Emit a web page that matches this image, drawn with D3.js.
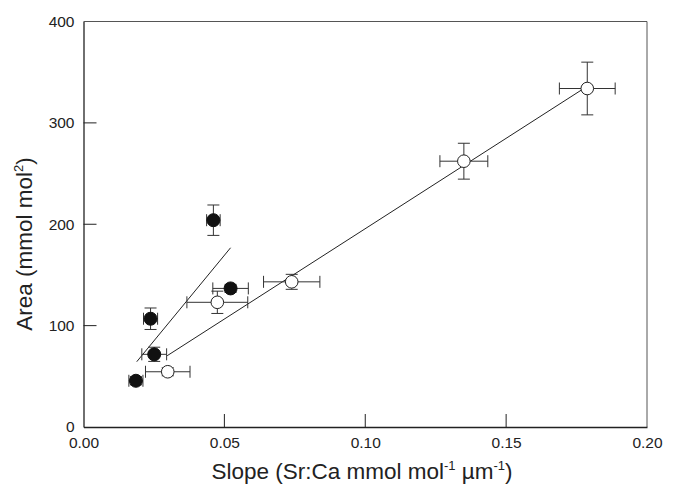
<!DOCTYPE html>
<html>
<head>
<meta charset="utf-8">
<script src="https://cdn.jsdelivr.net/npm/d3@7"></script>
<style>
  body { margin: 0; background: #fff; }
  svg { font-family: 'Liberation Sans', Arial, sans-serif; }
</style>
</head>
<body>
<div id="chart"></div>
<script>
// filled circles
const filledX = [0.0186, 0.0238, 0.0251, 0.0522, 0.0461];
const filledY = [45.6, 106.8, 71.7, 136.7, 204];
const filledXErr = [0.0025, 0.0025, 0.0044, 0.0063, 0.0024];
const filledYErr = [4, 10.6, 7, 4, 15];

// open circles
const openX = [0.0299, 0.0475, 0.0739, 0.135, 0.1788];
const openY = [54.5, 123, 143.2, 262.2, 333.9];
const openXErr = [0.0079, 0.0108, 0.01, 0.0085, 0.0099];
const openYErr = [4, 11, 7.4, 17.7, 26];

// fitted lines, two endpoints each
const filledFit = [[0.0189, 64.4], [0.0522, 176.8]];
const openFit = [[0.0297, 70.3], [0.177, 332.9]];

const xTicks = [0, 0.05, 0.1, 0.15, 0.2];
const yTicks = [0, 100, 200, 300, 400];

const W = 674;
const H = 489;
const margin = { left: 83.5, top: 21.5, right: 27, bottom: 62 };

const svg = d3.select('#chart').append('svg').attr('width', W).attr('height', H);

const x = d3.scaleLinear().domain([0, 0.2]).range([margin.left, W - margin.right]);
const y = d3.scaleLinear().domain([0, 400]).range([H - margin.bottom, margin.top]);

// box top + right (lighter)
svg.append('path')
  .attr('d', `M${x(0)},${y(400)}H${x(0.2)}V${y(0)}`)
  .attr('fill', 'none')
  .attr('stroke', '#555')
  .attr('stroke-width', 1);

// bottom axis, ticks inward
const xAxis = svg.append('g')
  .attr('transform', `translate(0,${y(0)})`)
  .call(d3.axisBottom(x).tickValues(xTicks).tickSize(0).tickPadding(10).tickFormat(d3.format('.2f')));
xAxis.select('.domain').attr('stroke', '#222').attr('stroke-width', 1.3);
xAxis.selectAll('text').attr('font-size', 15.5).attr('fill', '#222');
xTicks.slice(1, -1).forEach((t) => {
  svg.append('line')
    .attr('x1', x(t)).attr('x2', x(t))
    .attr('y1', y(0)).attr('y2', y(0) - 13)
    .attr('stroke', '#222');
});

// left axis, ticks inward
const yAxis = svg.append('g')
  .attr('transform', `translate(${x(0)},0)`)
  .call(d3.axisLeft(y).tickValues(yTicks).tickSize(0).tickPadding(9));
yAxis.select('.domain').attr('stroke', '#222').attr('stroke-width', 1.3);
yAxis.selectAll('text').attr('font-size', 15.5).attr('fill', '#222');
yTicks.slice(1, -1).forEach((t) => {
  svg.append('line')
    .attr('x1', x(0)).attr('x2', x(0) + 13)
    .attr('y1', y(t)).attr('y2', y(t))
    .attr('stroke', '#222');
});

// fit lines
const line = d3.line().x((d) => x(d[0])).y((d) => y(d[1]));
[filledFit, openFit].forEach((f) => {
  svg.append('path').attr('d', line(f)).attr('fill', 'none').attr('stroke', '#222').attr('stroke-width', 1);
});

const makePoints = (xs, ys, xe, ye) => xs.map((v, i) => ({ x: v, y: ys[i], xe: xe[i], ye: ye[i] }));
const filled = makePoints(filledX, filledY, filledXErr, filledYErr);
const open = makePoints(openX, openY, openXErr, openYErr);

const cap = 6;
const drawErr = (pts) => {
  const g = svg.append('g').attr('stroke', '#333').attr('stroke-width', 1).attr('fill', 'none');
  pts.forEach((d) => {
    const cx = x(d.x);
    const cy = y(d.y);
    const x0 = x(d.x - d.xe);
    const x1 = x(d.x + d.xe);
    const y0 = y(d.y - d.ye);
    const y1 = y(d.y + d.ye);
    g.append('path').attr('d', `M${x0},${cy}H${x1}M${x0},${cy - cap}V${cy + cap}M${x1},${cy - cap}V${cy + cap}`);
    g.append('path').attr('d', `M${cx},${y0}V${y1}M${cx - cap},${y0}H${cx + cap}M${cx - cap},${y1}H${cx + cap}`);
  });
};
drawErr(filled);
drawErr(open);

svg.append('g').selectAll('circle').data(filled).join('circle')
  .attr('cx', (d) => x(d.x)).attr('cy', (d) => y(d.y)).attr('r', 6.5)
  .attr('fill', '#111').attr('stroke', '#111');

svg.append('g').selectAll('circle').data(open).join('circle')
  .attr('cx', (d) => x(d.x)).attr('cy', (d) => y(d.y)).attr('r', 6.3)
  .attr('fill', '#fff').attr('stroke', '#222').attr('stroke-width', 1);

// axis titles
const xt = svg.append('text')
  .attr('x', 362).attr('y', 479)
  .attr('text-anchor', 'middle')
  .attr('font-size', 22.5).attr('fill', '#222');
xt.append('tspan').text('Slope (Sr:Ca mmol mol');
xt.append('tspan').text('-1').attr('font-size', 13).attr('dy', -9);
xt.append('tspan').text(' µm').attr('dy', 9);
xt.append('tspan').text('-1').attr('font-size', 13).attr('dy', -9);
xt.append('tspan').text(')').attr('dy', 9);

const yt = svg.append('text')
  .attr('transform', 'translate(32,244) rotate(-90)')
  .attr('text-anchor', 'middle')
  .attr('font-size', 22.5).attr('fill', '#222');
yt.append('tspan').text('Area (mmol mol');
yt.append('tspan').text('2').attr('font-size', 13).attr('dy', -9);
yt.append('tspan').text(')').attr('dy', 9);
</script>
</body>
</html>
